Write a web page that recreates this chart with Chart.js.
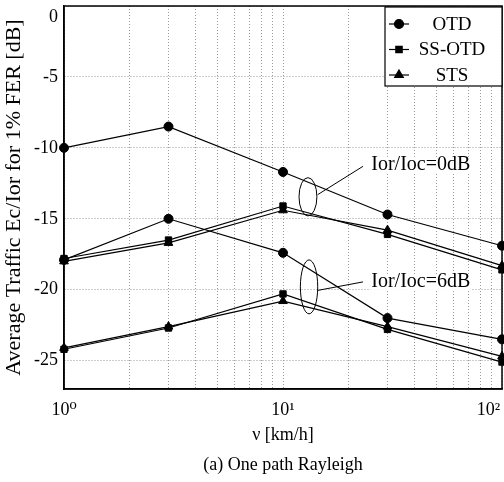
<!DOCTYPE html>
<html><head><meta charset="utf-8">
<script src="https://cdn.jsdelivr.net/npm/chart.js@4/dist/chart.umd.min.js"></script>
<style>html,body{margin:0;padding:0;background:#fff}#wrap{width:504px;height:482px}</style>
</head><body><div id="wrap"><canvas id="c" width="504" height="482"></canvas></div>
<script>
// ---- data ----
const speeds = [1, 3, 10, 30, 100];           // v [km/h]
const otd0   = [-10.0, -8.5, -11.7, -14.7, -16.9];
const ssotd0 = [-17.8, -16.5, -14.1, -16.1, -18.6];
const sts0   = [-18.0, -16.7, -14.4, -15.8, -18.3];
const otd6   = [-17.9, -15.0, -17.4, -22.0, -23.5];
const ssotd6 = [-24.2, -22.7, -20.3, -22.8, -25.1];
const sts6   = [-24.1, -22.6, -20.8, -22.6, -24.7];
const seriesNames = ['OTD', 'SS-OTD', 'STS'];
const seriesMarkers = ['circle', 'rect', 'triangle'];
const yTickValues = [-25, -20, -15, -10, -5, 0];
const xTickValues = [1,2,3,4,5,6,7,8,9,10,20,30,40,50,60,70,80,90,100];
const xTickLabels = {1: '10⁰', 10: '10¹', 100: '10²\u2003\u2002'};
const groupLabels = ['Ior/Ioc=0dB', 'Ior/Ioc=6dB'];

// annotation geometry in data coordinates
const notes = [
  {text: groupLabels[0], tx: 25.3, ty: -11.2, lx0: 23.2, ly0: -11.3, lx1: 14.4, ly1: -13.3,
   ex: 13.0, ey: -13.45, exLo: 11.85, exHi: 14.3, eyHalf: 1.35},
  {text: groupLabels[1], tx: 25.3, ty: -19.45, lx0: 23.2, ly0: -19.45, lx1: 14.4, ly1: -20.05,
   ex: 13.15, ey: -19.8, exLo: 12.0, exHi: 14.4, eyHalf: 1.9}
];

const FONT = "'Liberation Serif', 'DejaVu Serif', serif";
const groups = [[otd0, ssotd0, sts0], [otd6, ssotd6, sts6]];
const datasets = [];
groups.forEach((g, gi) => g.forEach((vals, si) => {
  datasets.push({
    label: seriesNames[si] + ' ' + groupLabels[gi],
    data: speeds.map((s, i) => ({x: s, y: vals[i]})),
    borderColor: '#000', backgroundColor: '#000', borderWidth: 1.2,
    pointStyle: seriesMarkers[si], pointRadius: si === 2 ? 5 : 4.5,
    pointBorderWidth: 1, pointBackgroundColor: '#000', pointBorderColor: '#000',
    tension: 0, fill: false, clip: false
  });
}));

const deco = {
  id: 'deco',
  beforeDraw(chart) {
    const ctx = chart.ctx;
    ctx.save(); ctx.fillStyle = '#fff'; ctx.fillRect(0, 0, chart.width, chart.height); ctx.restore();
  },
  afterDraw(chart) {
    const {ctx, chartArea: a, scales: {x, y}} = chart;
    ctx.save();
    // frame
    ctx.strokeStyle = '#000'; ctx.lineWidth = 1.5;
    ctx.strokeRect(a.left, a.top, a.right - a.left, a.bottom - a.top);
    // group annotations
    ctx.lineWidth = 1;
    notes.forEach(n => {
      const cx = x.getPixelForValue(n.ex), cy = y.getPixelForValue(n.ey);
      const rx = (x.getPixelForValue(n.exHi) - x.getPixelForValue(n.exLo)) / 2;
      const ry = Math.abs(y.getPixelForValue(n.ey + n.eyHalf) - cy);
      ctx.strokeStyle = '#000';
      ctx.beginPath(); ctx.ellipse(cx, cy, rx, ry, 0, 0, Math.PI * 2); ctx.stroke();
      ctx.beginPath();
      ctx.moveTo(x.getPixelForValue(n.lx0), y.getPixelForValue(n.ly0));
      ctx.lineTo(x.getPixelForValue(n.lx1), y.getPixelForValue(n.ly1));
      ctx.stroke();
      ctx.font = '20px ' + FONT;
      ctx.textAlign = 'left'; ctx.textBaseline = 'middle';
      const tx = x.getPixelForValue(n.tx), ty = y.getPixelForValue(n.ty);
      ctx.fillStyle = '#fff';
      const w = ctx.measureText(n.text).width;
      ctx.fillRect(tx - 1, ty - 8, w + 2, 16);
      ctx.fillStyle = '#000';
      ctx.fillText(n.text, tx, ty);
    });
    // legend
    const bw = 117, bh = 79;
    const bx = a.right - bw, by = a.top + 1;
    ctx.fillStyle = '#fff'; ctx.fillRect(bx, by, bw, bh);
    ctx.strokeStyle = '#000'; ctx.lineWidth = 1.2; ctx.strokeRect(bx, by, bw, bh);
    seriesNames.forEach((name, i) => {
      const ly = by + 17 + i * 25.5;
      ctx.strokeStyle = '#000'; ctx.lineWidth = 1.2;
      ctx.beginPath(); ctx.moveTo(bx + 4, ly); ctx.lineTo(bx + 24, ly); ctx.stroke();
      ctx.fillStyle = '#000';
      Chart.helpers.drawPoint(ctx, {pointStyle: seriesMarkers[i], radius: i === 2 ? 5 : 4.5, rotation: 0, borderWidth: 1}, bx + 14, ly);
      ctx.font = '19px ' + FONT; ctx.textAlign = 'center'; ctx.textBaseline = 'middle';
      ctx.fillText(name, bx + 67, ly + 1);
    });
    ctx.restore();
  }
};

new Chart(document.getElementById('c'), {
  type: 'line',
  data: {datasets},
  plugins: [deco],
  options: {
    responsive: false, animation: false,
    layout: {autoPadding: false, padding: {top: 6, right: 2, left: 0, bottom: 0}},
    plugins: {
      legend: {display: false}, tooltip: {enabled: false},
      title: {display: true, position: 'bottom', fullSize: false, text: '(a) One path Rayleigh', color: '#000',
              font: {family: FONT, size: 18, weight: 'normal'}, padding: {top: 2, bottom: 6}}
    },
    scales: {
      x: {
        type: 'logarithmic', min: 1, max: 100,
        afterBuildTicks: s => { s.ticks = xTickValues.map(v => ({value: v})); },
        ticks: {autoSkip: false, maxRotation: 0, minRotation: 0, color: '#000', padding: 10,
                font: {family: FONT, size: 18},
                callback: v => xTickLabels[Math.round(v)] && Math.abs(Math.log10(v) - Math.round(Math.log10(v))) < 1e-9 ? xTickLabels[Math.round(v)] : ''},
        grid: {color: '#9a9a9a', lineWidth: 1, drawTicks: false},
        border: {color: '#000', width: 1.5, dash: [1, 2]},
        title: {display: true, text: 'ν [km/h]', color: '#000', font: {family: FONT, size: 18},
                padding: {top: 0, bottom: 6}},
        afterFit: s => { s.height = 482 - 389 - 29.6; s.paddingLeft = 0; s.paddingRight = 0; }
      },
      y: {
        min: -27, max: 0,
        afterBuildTicks: s => { s.ticks = yTickValues.map(v => ({value: v})); },
        ticks: {color: '#000', padding: 6, font: {family: FONT, size: 18},
                callback: v => v === 0 ? ['', '0'] : String(v)},
        grid: {color: '#9a9a9a', lineWidth: 1, drawTicks: false},
        border: {color: '#000', width: 1.5, dash: [1, 2]},
        title: {display: true, text: 'Average Traffic Ec/Ior for 1% FER [dB]', color: '#000',
                font: {family: FONT, size: 22}, padding: {top: 1, bottom: 0}},
        afterFit: s => { s.width = 64; s.paddingTop = 0; s.paddingBottom = 0; }
      }
    }
  }
});
</script></body></html>
